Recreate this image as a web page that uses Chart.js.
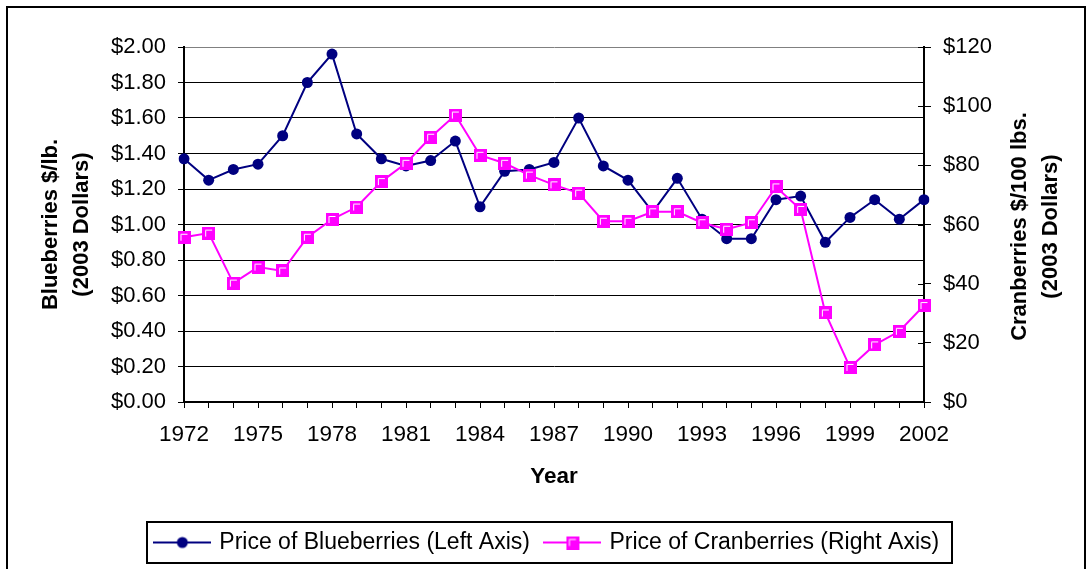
<!DOCTYPE html>
<html>
<head>
<meta charset="utf-8">
<script src="https://cdn.jsdelivr.net/npm/chart.js@4.4.0/dist/chart.umd.min.js"></script>
<style>
html,body{margin:0;padding:0;background:#fff;}
#wrap{position:relative;width:1086px;height:569px;}
</style>
</head>
<body>
<div id="wrap"><canvas id="c" width="1086" height="569"></canvas></div>
<script>
// ---- data ----
const years = [1972,1973,1974,1975,1976,1977,1978,1979,1980,1981,1982,1983,1984,1985,1986,1987,1988,1989,1990,1991,1992,1993,1994,1995,1996,1997,1998,1999,2000,2001,2002];
const blueberries = [1.37,1.25,1.31,1.34,1.50,1.80,1.96,1.51,1.37,1.33,1.36,1.47,1.10,1.30,1.31,1.35,1.60,1.33,1.25,1.07,1.26,1.03,0.92,0.92,1.14,1.16,0.90,1.04,1.14,1.03,1.14];
const cranberries = [55.7,57.1,40.2,45.6,44.3,55.7,61.7,65.9,74.5,80.7,89.5,97.0,83.4,80.7,76.7,73.4,70.6,61.1,61.1,64.3,64.3,60.6,58.4,60.6,72.7,65.1,30.1,11.7,19.3,23.9,32.6];
const seriesLabels = ['Price of Blueberries (Left Axis)', 'Price of Cranberries (Right Axis)'];
const leftTitle = ['Blueberries $/lb.', '(2003 Dollars)'];
const rightTitle = ['Cranberries $/100 lbs.', '(2003 Dollars)'];
const xTitle = 'Year';
const leftRange = [0, 2, 0.2];
const rightRange = [0, 120, 20];
const labelEvery = 3;

const BLUE = '#000080';
const MAGENTA = '#FF00FF';
const FONT = '"Liberation Sans", Arial, Helvetica, sans-serif';
Chart.defaults.font.family = FONT;
Chart.defaults.color = '#000';

function squareMarker() {
  const c = document.createElement('canvas');
  c.width = 13; c.height = 13;
  const g = c.getContext('2d');
  g.fillStyle = MAGENTA;
  g.fillRect(0, 0, 13, 13);
  g.strokeStyle = '#fff';
  g.lineWidth = 1;
  g.beginPath();
  g.moveTo(3.5, 10);
  g.lineTo(3.5, 3.5);
  g.lineTo(10, 3.5);
  g.stroke();
  return c;
}
const sq = squareMarker();

function legendImage(color, kind) {
  const c = document.createElement('canvas');
  c.width = 58; c.height = 14;
  const g = c.getContext('2d');
  g.strokeStyle = color; g.lineWidth = 2;
  g.beginPath(); g.moveTo(0, 7); g.lineTo(58, 7); g.stroke();
  if (kind === 'circle') {
    g.fillStyle = color;
    g.beginPath(); g.arc(29, 7, 5.5, 0, Math.PI * 2); g.fill();
  } else {
    g.drawImage(sq, 29 - 6.5, 0.5);
  }
  return c;
}
const legendImgs = [legendImage(BLUE, 'circle'), legendImage(MAGENTA, 'square')];

const extras = {
  id: 'extras',
  afterLayout(chart) {
    // nudge the centred legend slightly to the right, as in the original
    if (chart.legend) { chart.legend.left += 5; chart.legend.right += 5; }
  },
  afterDraw(chart) {
    const ctx = chart.ctx;
    const ca = chart.chartArea;
    const y1 = chart.scales.y1;
    ctx.save();
    // crossing ticks on right axis (inner part)
    ctx.strokeStyle = '#000'; ctx.lineWidth = 1;
    y1.ticks.forEach(t => {
      const py = Math.round(y1.getPixelForValue(t.value)) + 0.5;
      ctx.beginPath(); ctx.moveTo(ca.right - 6, py); ctx.lineTo(ca.right, py); ctx.stroke();
    });
    // right title, reading bottom-to-top
    ctx.font = 'bold 22px ' + FONT;
    ctx.fillStyle = '#000';
    ctx.textAlign = 'center';
    ctx.textBaseline = 'middle';
    const cy = (ca.top + ca.bottom) / 2 + 2;
    rightTitle.forEach((t, i) => {
      ctx.save();
      ctx.translate(y1.left + 96 + i * 31, cy);
      ctx.rotate(-Math.PI / 2);
      ctx.fillText(t, 0, 0);
      ctx.restore();
    });
    // legend frame
    const hb = chart.legend.legendHitBoxes;
    if (hb && hb.length) {
      const first = hb[0], last = hb[hb.length - 1];
      const midY = first.top + first.height / 2;
      ctx.strokeStyle = '#000'; ctx.lineWidth = 2;
      const lx = Math.round(first.left - 10), rx = Math.round(last.left + last.width + 13);
      ctx.strokeRect(lx, Math.round(midY - 20.5), rx - lx, 41);
    }
    // outer frame
    ctx.lineWidth = 2;
    ctx.strokeRect(7, 7, 1078, 700);
    ctx.restore();
  }
};

new Chart(document.getElementById('c'), {
  type: 'line',
  data: {
    labels: years,
    datasets: [
      {
        label: seriesLabels[0], data: blueberries, yAxisID: 'y', order: 1,
        borderColor: BLUE, backgroundColor: BLUE, borderWidth: 2,
        pointStyle: 'circle', pointRadius: 5.5, pointBorderWidth: 0,
        pointBackgroundColor: BLUE, tension: 0
      },
      {
        label: seriesLabels[1], data: cranberries, yAxisID: 'y1', order: 0,
        borderColor: MAGENTA, backgroundColor: MAGENTA, borderWidth: 2,
        pointStyle: sq, pointRadius: 6.5, tension: 0
      }
    ]
  },
  options: {
    responsive: false,
    animation: false,
    events: [],
    layout: { padding: { top: 47, left: 0, right: 0, bottom: 5 } },
    plugins: {
      tooltip: { enabled: false },
      legend: {
        display: true,
        position: 'bottom',
        labels: {
          usePointStyle: true,
          pointStyleWidth: 51,
          font: { size: 23, lineHeight: 1.15 },
          color: '#000',
          padding: 17,
          generateLabels: chart => chart.data.datasets.map((ds, i) => ({
            text: ds.label, pointStyle: legendImgs[i], fontColor: '#000',
            hidden: false, datasetIndex: i, lineWidth: 0,
            strokeStyle: 'rgba(0,0,0,0)', fillStyle: 'rgba(0,0,0,0)'
          }))
        }
      }
    },
    scales: {
      x: {
        type: 'category',
        offset: false,
        grid: { drawOnChartArea: false, drawTicks: true, tickLength: 6, color: '#000', lineWidth: 1 },
        border: { display: true, color: '#000', width: 2 },
        ticks: {
          autoSkip: false, maxRotation: 0, minRotation: 0,
          font: { size: 22.5 }, color: '#000', padding: 13,
          callback: function (v, i) { return i % labelEvery === 0 ? String(years[i]) : ''; }
        },
        title: { display: true, text: xTitle, font: { size: 22.5, weight: 'bold' }, color: '#000', padding: { top: 0, bottom: 24 } },
        afterFit: s => { s.height = 112; }
      },
      y: {
        position: 'left',
        min: leftRange[0], max: leftRange[1],
        ticks: {
          stepSize: leftRange[2], font: { size: 22 }, color: '#000', padding: 12,
          callback: v => '$' + Number(v).toFixed(2)
        },
        grid: {
          color: c => (c.tick && c.tick.value >= leftRange[1] - 1e-9) ? '#808080' : '#000',
          tickColor: '#000', tickLength: 6, lineWidth: 1
        },
        border: { display: true, color: '#000', width: 2 },
        title: { display: true, text: leftTitle, font: { size: 22, weight: 'bold', lineHeight: '31px' }, color: '#000', padding: { top: 35, bottom: 0 } },
        afterFit: s => { s.width = 184; }
      },
      y1: {
        position: 'right',
        min: rightRange[0], max: rightRange[1],
        ticks: {
          stepSize: rightRange[2], font: { size: 22 }, color: '#000', padding: 12,
          callback: v => '$' + v
        },
        grid: { drawOnChartArea: false, color: '#000', tickLength: 7, lineWidth: 1 },
        border: { display: true, color: '#000', width: 2 },
        afterFit: s => { s.width = 162; }
      }
    }
  },
  plugins: [extras]
});
</script>
</body>
</html>
